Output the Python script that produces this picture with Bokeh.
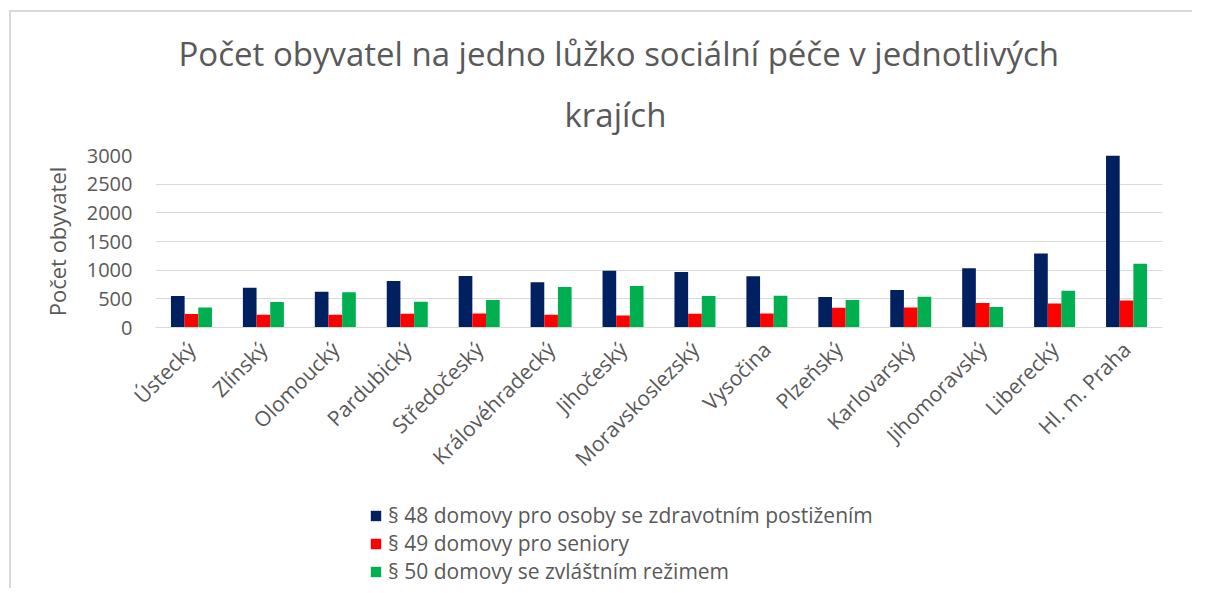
import math
from bokeh.plotting import figure
from bokeh.layouts import column
from bokeh.models import FactorRange, Legend, LegendItem, Title, ColumnDataSource, FixedTicker
from bokeh.transform import dodge
from bokeh.embed import file_html
from bokeh.resources import INLINE

regions = ["Ústecký", "Zlínský", "Olomoucký", "Pardubický", "Středočeský",
           "Královéhradecký", "Jihočeský", "Moravskoslezský", "Vysočina",
           "Plzeňský", "Karlovarský", "Jihomoravský", "Liberecký", "Hl. m. Praha"]
s48 = [550, 695, 625, 812, 900, 788, 992, 968, 893, 532, 654, 1033, 1290, 3000]
s49 = [235, 222, 222, 240, 245, 222, 210, 240, 245, 345, 350, 427, 420, 473]
s50 = [350, 444, 613, 450, 480, 707, 724, 550, 555, 480, 537, 357, 642, 1110]
series_labels = ["§ 48 domovy pro osoby se zdravotním postižením",
                 "§ 49 domovy pro seniory",
                 "§ 50 domovy se zvláštním režimem"]
y_ticks = [0, 500, 1000, 1500, 2000, 2500, 3000]
title_lines = ["Počet obyvatel na jedno lůžko sociální péče v jednotlivých", "krajích"]
y_label = "Počet obyvatel"

colors = ["#002060", "#FF0000", "#00B050"]
keys = ["s48", "s49", "s50"]
FONT = "Open Sans"
GREY = "#595959"

src = ColumnDataSource(dict(region=regions, s48=s48, s49=s49, s50=s50))

# ---- main chart ----
p = figure(x_range=FactorRange(*regions, range_padding=0), y_range=(0, 3000),
           frame_width=1007, frame_height=172,
           min_border_left=144, min_border_right=30, min_border_top=143, min_border_bottom=179,
           output_backend="svg", toolbar_location=None)

bw = 0.19
for key, off, col in zip(keys, [-bw, 0, bw], colors):
    p.vbar(x=dodge("region", off, range=p.x_range), top=key, width=bw, source=src,
           fill_color=col, line_color=None)

p.outline_line_color = None
p.xgrid.grid_line_color = None
p.ygrid.grid_line_color = "#d9d9d9"
p.ygrid.grid_line_width = 1
p.yaxis.ticker = FixedTicker(ticks=y_ticks)

p.yaxis.axis_line_color = None
p.yaxis.major_tick_line_color = None
p.yaxis.minor_tick_line_color = None
p.yaxis.major_tick_out = 0
p.yaxis.major_label_standoff = 23
p.yaxis.major_label_text_font = FONT
p.yaxis.major_label_text_font_size = "20px"
p.yaxis.major_label_text_color = GREY
p.yaxis.axis_label = y_label
p.yaxis.axis_label_text_font = FONT
p.yaxis.axis_label_text_font_size = "22px"
p.yaxis.axis_label_text_font_style = "normal"
p.yaxis.axis_label_text_color = GREY
p.yaxis.axis_label_standoff = 12

p.xaxis.axis_line_color = "#d9d9d9"
p.xaxis.major_tick_line_color = None
p.xaxis.minor_tick_line_color = None
p.xaxis.major_tick_out = 0
p.xaxis.major_label_orientation = math.pi / 4
p.xaxis.major_label_standoff = 18
p.xaxis.major_label_text_font = FONT
p.xaxis.major_label_text_font_size = "21px"
p.xaxis.major_label_text_color = GREY

title_offsets = [23, 409]
title_standoffs = [0, 33]
title_valign = ["bottom", "top"]
for line, off, so, va in reversed(list(zip(title_lines, title_offsets, title_standoffs, title_valign))):
    t = Title(text=line, align="left", offset=off, standoff=so, vertical_align=va,
              text_font=FONT, text_font_size="33px", text_font_style="normal", text_color=GREY)
    p.add_layout(t, "above")

# ---- legend strip below the chart ----
lg = figure(x_range=FactorRange(*regions), y_range=(10000, 10001), width=1181, height=82,
            min_border=0, x_axis_location=None, y_axis_location=None,
            output_backend="svg", toolbar_location=None)
lg.outline_line_color = None
lg.xgrid.visible = False
lg.ygrid.visible = False
lrs = []
for key, col in zip(keys, colors):
    lrs.append(lg.vbar(x="region", top=key, width=bw, source=src,
                       fill_color=col, line_color=None))

items = [LegendItem(label=lab, renderers=[r]) for lab, r in zip(series_labels, lrs)]
legend = Legend(items=items, orientation="vertical", location=(214, 3),
                label_text_font=FONT, label_text_font_size="21px", label_text_color=GREY,
                glyph_width=13, glyph_height=13, label_height=25, spacing=-3,
                padding=0, margin=0, border_line_color=None, background_fill_alpha=0,
                label_standoff=6)
lg.add_layout(legend, "center")

layout = column(p, lg, spacing=0,
                styles={"border-top": "2px solid #d9d9d9", "border-left": "2px solid #d9d9d9",
                        "margin-left": "9px", "margin-top": "10px"})

open("out.html", "w").write(file_html(layout, INLINE))
